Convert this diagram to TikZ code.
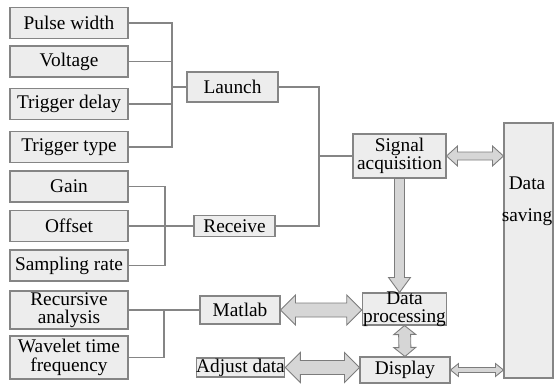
\documentclass[tikz,border=0pt]{standalone}
\usepackage{fontspec}
\setmainfont{Liberation Serif}
\usetikzlibrary{calc}
\definecolor{box-fill}{HTML}{EDEDED}
\definecolor{box-line}{HTML}{858585}
\definecolor{arrow-fill}{HTML}{D6D6D6}
\definecolor{arrow-line}{HTML}{7C7C7C}

% fat two-headed arrow: from, to, half shaft, half head, head length
\newcommand{\fatarrow}[5]{
  \coordinate (fa-s) at ($(#1)!#5!(#2)$);
  \coordinate (fa-e) at ($(#2)!#5!(#1)$);
  \filldraw[block arrow] (#1)
    -- ($(fa-s)!#4!90:(#2)$) -- ($(fa-s)!#3!90:(#2)$)
    -- ($(fa-e)!#3!-90:(#1)$) -- ($(fa-e)!#4!-90:(#1)$)
    -- (#2)
    -- ($(fa-e)!#4!90:(#1)$) -- ($(fa-e)!#3!90:(#1)$)
    -- ($(fa-s)!#3!-90:(#2)$) -- ($(fa-s)!#4!-90:(#2)$)
    -- cycle;
}
% fat arrow with one head at the second point
\newcommand{\fatarrowto}[5]{
  \coordinate (fa-e) at ($(#2)!#5!(#1)$);
  \filldraw[block arrow] ($(#1)!#3!90:(#2)$)
    -- ($(fa-e)!#3!-90:(#1)$) -- ($(fa-e)!#4!-90:(#1)$)
    -- (#2)
    -- ($(fa-e)!#4!90:(#1)$) -- ($(fa-e)!#3!90:(#1)$)
    -- ($(#1)!#3!-90:(#2)$) -- cycle;
}

\begin{document}
\begin{tikzpicture}[font=\fontsize{11}{10.5}\selectfont,
  text only/.style={inner sep=0pt, align=center},
  stage box/.style={draw=box-line, fill=box-fill, line width=0.6pt, inner sep=0.5pt, align=center},
  param box/.style={stage box, minimum width=2.36cm, minimum height=0.62cm},
  bus line/.style={draw=box-line, line width=0.6pt},
  block arrow/.style={draw=arrow-line, fill=arrow-fill, line width=0.5pt, line join=miter}]
\useasboundingbox (0,0) rectangle (11.08,7.70);

% processing stages
\node[stage box, minimum width=1.82cm, minimum height=0.6cm] (launch) at (4.65, 5.96) {Launch};
\node[stage box, minimum width=1.62cm, minimum height=0.42cm] (receive) at (4.69, 3.18) {Receive};
\node[stage box, minimum width=1.6cm, minimum height=0.56cm] (matlab) at (4.8, 1.5) {Matlab};
\node[stage box, minimum width=1.7cm, minimum height=0.38cm, inner sep=0pt] (adjust) at (4.81, 0.35) {Adjust data};
\node[stage box, minimum width=1.86cm, minimum height=0.88cm] (signal) at (7.99, 4.58) {Signal\\acquisition};
\node[stage box, minimum width=1.66cm, minimum height=0.64cm, inner ysep=-2pt] (proc) at (8.09, 1.52) {Data\\processing};
\node[stage box, minimum width=1.8cm, minimum height=0.52cm] (display) at (8.1, 0.3) {Display};
\node[stage box, minimum width=0.98cm, minimum height=5.1cm] (saving) at (10.57, 2.69) {};
\node[text only] (saving-text) at (10.54, 3.68) {Data\\[0.28cm]saving};

% bus joints
\coordinate (launch-bus) at (3.44, 5.96);
\coordinate (receive-bus) at (3.30, 3.18);
\coordinate (matlab-bus) at (3.28, 1.5);
\coordinate (signal-bus) at (6.38, 4.58);

% transmit parameters
\foreach \name/\y/\phrase in {
    pulse/7.24/Pulse width,
    voltage/6.47/Voltage,
    delay/5.62/Trigger delay,
    type/4.76/Trigger type} {
  \node[param box] (\name) at (1.38, \y) {\phrase};
  \draw[bus line] (\name.east) -| (launch-bus);
}
\draw[bus line] (launch-bus) -- (launch.west);

% receive parameters
\foreach \name/\y/\phrase in {
    gain/3.97/Gain,
    offset/3.18/Offset,
    sampling/2.39/Sampling rate} {
  \node[param box] (\name) at (1.38, \y) {\phrase};
}
\draw[bus line] (gain.east) -| (receive-bus);
\draw[bus line] (sampling.east) -| (receive-bus);
\draw[bus line] (offset.east) -- (receive.west);

% analysis methods
\node[param box, minimum height=0.76cm] (recursive) at (1.38, 1.5) {Recursive\\analysis};
\node[param box, minimum height=0.86cm] (wavelet) at (1.38, 0.55) {Wavelet time\\frequency};
\draw[bus line] (recursive.east) -- (matlab.west);
\draw[bus line] (wavelet.east) -| (matlab-bus);

% acquisition bus
\draw[bus line] (launch.east) -| (signal-bus);
\draw[bus line] (receive.east) -| (signal-bus);
\draw[bus line] (signal-bus) -- (signal.west);

% data flow arrows
\coordinate (signal-saving) at (signal.east -| saving.west);
\coordinate (signal-proc) at (signal.south |- proc.north);
\coordinate (matlab-proc) at (matlab.east -| proc.west);
\coordinate (adjust-display) at (adjust.east -| display.west);
\coordinate (display-saving) at (display.east -| saving.west);
\fatarrow{signal.east}{signal-saving}{0.08cm}{0.2cm}{0.22cm}
\fatarrowto{signal.south}{signal-proc}{0.1cm}{0.22cm}{0.3cm}
\fatarrow{matlab.east}{matlab-proc}{0.14cm}{0.3cm}{0.3cm}
\fatarrow{proc.south}{display.north}{0.12cm}{0.22cm}{0.18cm}
\fatarrow{adjust.east}{adjust-display}{0.14cm}{0.3cm}{0.3cm}
\fatarrow{display.east}{display-saving}{0.05cm}{0.13cm}{0.16cm}
\end{tikzpicture}
\end{document}
